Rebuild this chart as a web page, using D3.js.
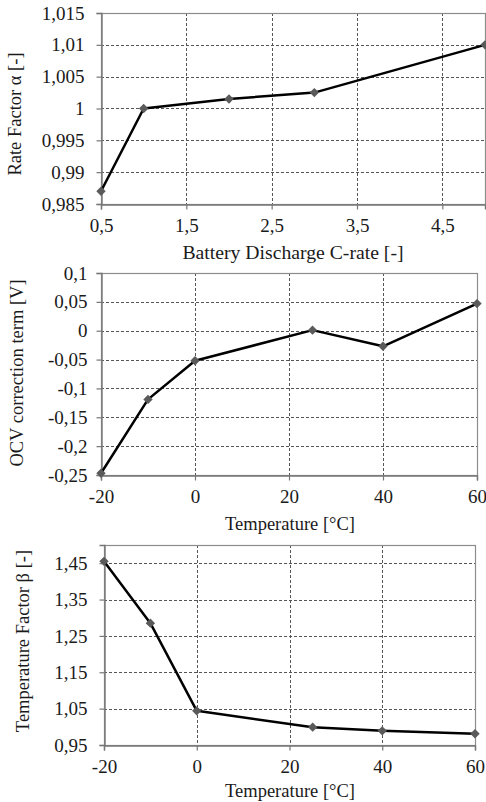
<!DOCTYPE html>
<html>
<head>
<meta charset="utf-8">
<script src="https://cdn.jsdelivr.net/npm/d3@7"></script>
<style>
  html, body { margin: 0; padding: 0; background: #fff; }
  svg { display: block; }
</style>
</head>
<body>
<svg id="chart" width="486" height="802"></svg>
<script>
// Rate factor vs. discharge C-rate
const cRate = [0.5, 1, 2, 3, 5];
const alphaValues = [0.987, 1.0, 1.0015, 1.0025, 1.01];
const cRateTicks = [0.5, 1.5, 2.5, 3.5, 4.5];
const alphaTicks = [0.985, 0.99, 0.995, 1, 1.005, 1.01, 1.015];

// OCV correction term vs. temperature
const tempOCV = [-20, -10, 0, 25, 40, 60];
const ocvValues = [-0.247, -0.119, -0.052, 0.001, -0.027, 0.047];
const ocvTicks = [-0.25, -0.2, -0.15, -0.1, -0.05, 0, 0.05, 0.1];

// Temperature factor vs. temperature
const tempBeta = [-20, -10, 0, 25, 40, 60];
const betaValues = [1.455, 1.285, 1.044, 0.999, 0.989, 0.981];
const betaTicks = [0.95, 1.05, 1.15, 1.25, 1.35, 1.45];

const tempTicks = [-20, 0, 20, 40, 60];

const FONT = "'Liberation Serif', 'Times New Roman', serif";
const svg = d3.select("#chart");
// decimal comma, plain hyphen for negatives
const commaFmt = v => String(+v.toFixed(4)).replace(".", ",");

function panel(opts) {
  const x = d3.scaleLinear().domain(opts.xDomain).range([opts.left, opts.right]);
  const y = d3.scaleLinear().domain(opts.yDomain).range([opts.bottom, opts.top]);
  const g = svg.append("g");

  // dashed grid
  g.append("g").selectAll("line").data(opts.yTicks.filter(v => y(v) > opts.top + 0.5 && y(v) < opts.bottom - 0.5))
    .join("line")
    .attr("x1", opts.left).attr("x2", opts.right)
    .attr("y1", d => Math.round(y(d)) + 0.5).attr("y2", d => Math.round(y(d)) + 0.5)
    .attr("stroke", "#555").attr("stroke-width", 1).attr("stroke-dasharray", "3,2");
  g.append("g").selectAll("line").data(opts.xTicks.filter(v => x(v) > opts.left + 0.5 && x(v) < opts.right - 0.5))
    .join("line")
    .attr("y1", opts.top).attr("y2", opts.bottom)
    .attr("x1", d => Math.round(x(d)) + 0.5).attr("x2", d => Math.round(x(d)) + 0.5)
    .attr("stroke", "#555").attr("stroke-width", 1).attr("stroke-dasharray", "3,2");

  // plot frame
  g.append("rect")
    .attr("x", opts.left + 0.5).attr("y", opts.top + 0.5)
    .attr("width", opts.right - opts.left).attr("height", opts.bottom - opts.top)
    .attr("fill", "none").attr("stroke", "#8c8c8c").attr("stroke-width", 1.2);

  // axes
  const xAxis = d3.axisBottom(x).tickValues(opts.xTicks).tickSize(5).tickPadding(9)
    .tickFormat(commaFmt);
  const yAxis = d3.axisLeft(y).tickValues(opts.yTicks).tickSize(5).tickPadding(opts.yPad)
    .tickFormat(commaFmt);

  const gx = g.append("g").attr("transform", `translate(0,${opts.bottom + 0.5})`).call(xAxis);
  const gy = g.append("g").attr("transform", `translate(${opts.left + 0.5},0)`).call(yAxis);
  [gx, gy].forEach(a => {
    a.attr("font-family", null).attr("font-size", null);
    a.select(".domain").attr("stroke", "#777").attr("stroke-width", 1.4);
    a.selectAll(".tick line").attr("stroke", "#777").attr("stroke-width", 1.2);
    a.selectAll(".tick text")
      .style("font-family", FONT).style("font-size", "19px").attr("fill", "#1a1a1a");
  });
  gx.selectAll(".tick text").attr("dy", "0.71em");

  // axis titles
  g.append("text")
    .attr("x", opts.xLabelX).attr("y", opts.bottom + opts.xLabelDy)
    .attr("text-anchor", "middle")
    .style("font-family", FONT).style("font-size", opts.xLabelSize + "px").attr("fill", "#1a1a1a")
    .text(opts.xLabel);
  g.append("text")
    .attr("transform", `translate(${opts.yLabelX},${opts.yLabelY}) rotate(-90)`)
    .attr("text-anchor", "middle")
    .style("font-family", FONT).style("font-size", "18.5px").attr("fill", "#1a1a1a")
    .text(opts.yLabel);

  // series
  const pts = opts.xs.map((v, i) => [v, opts.ys[i]]);
  g.append("path").datum(pts)
    .attr("fill", "none").attr("stroke", "#000").attr("stroke-width", 2.5)
    .attr("stroke-linejoin", "round")
    .attr("d", d3.line().x(d => x(d[0])).y(d => y(d[1])));
  g.append("g").selectAll("path").data(pts).join("path")
    .attr("d", d3.symbol(d3.symbolSquare, 44)())
    .attr("transform", d => `translate(${x(d[0])},${y(d[1])}) rotate(45)`)
    .attr("fill", "#5a5a5a");
}

panel({
  xs: cRate, ys: alphaValues,
  xDomain: [0.5, 5], yDomain: [0.985, 1.015],
  xTicks: cRateTicks, yTicks: alphaTicks,
  left: 101, right: 485, top: 13, bottom: 204, yPad: 12,
  xLabel: "Battery Discharge C-rate [-]", xLabelX: 293, xLabelDy: 54.5, xLabelSize: 19.7,
  yLabel: "Rate Factor α [-]", yLabelX: 21, yLabelY: 114
});

panel({
  xs: tempOCV, ys: ocvValues,
  xDomain: [-20, 60], yDomain: [-0.25, 0.1],
  xTicks: tempTicks, yTicks: ocvTicks,
  left: 101, right: 477, top: 273, bottom: 475, yPad: 9,
  xLabel: "Temperature [°C]", xLabelX: 290, xLabelDy: 55, xLabelSize: 18.5,
  yLabel: "OCV correction term [V]", yLabelX: 23, yLabelY: 373
});

panel({
  xs: tempBeta, ys: betaValues,
  xDomain: [-20, 60], yDomain: [0.95, 1.5],
  xTicks: tempTicks, yTicks: betaTicks,
  left: 104, right: 475, top: 545, bottom: 745, yPad: 12,
  xLabel: "Temperature [°C]", xLabelX: 290, xLabelDy: 52, xLabelSize: 18.5,
  yLabel: "Temperature Factor β [-]", yLabelX: 29, yLabelY: 641
});
</script>
</body>
</html>
